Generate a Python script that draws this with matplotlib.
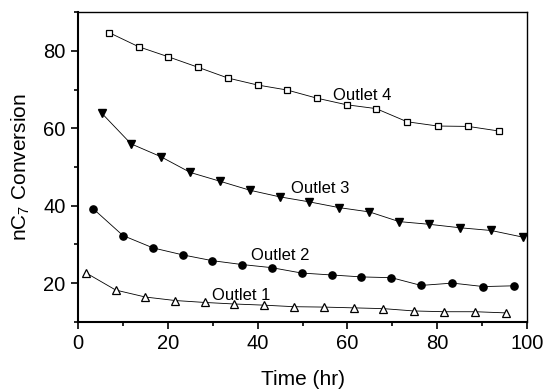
import matplotlib
matplotlib.use("Agg")
import matplotlib.pyplot as plt
from matplotlib.ticker import MultipleLocator

plt.rcParams['font.family'] = ['Liberation Sans', 'DejaVu Sans']
plt.rcParams['mathtext.fontset'] = 'custom'
plt.rcParams['mathtext.rm'] = 'Liberation Sans'
plt.rcParams['mathtext.it'] = 'Liberation Sans'

# conversion vs. time on stream, one series per reactor outlet
time_1 = [1.7, 8.4, 15.0, 21.6, 28.2, 34.8, 41.4, 48.1, 54.8, 61.4, 68.0, 74.8, 81.6, 88.5, 95.3]
conv_1 = [22.7, 18.2, 16.4, 15.5, 15.0, 14.6, 14.3, 13.9, 13.8, 13.6, 13.4, 12.8, 12.6, 12.6, 12.3]

time_2 = [3.4, 10.0, 16.7, 23.3, 29.9, 36.5, 43.1, 49.8, 56.5, 63.1, 69.8, 76.4, 83.4, 90.3, 97.0]
conv_2 = [39.2, 32.3, 29.1, 27.3, 25.8, 24.8, 24.0, 22.6, 22.1, 21.6, 21.4, 19.4, 20.0, 19.1, 19.3]

time_3 = [5.3, 11.8, 18.4, 25.0, 31.7, 38.3, 44.9, 51.5, 58.2, 64.9, 71.5, 78.2, 85.1, 92.0, 99.0]
conv_3 = [63.9, 56.0, 52.7, 48.6, 46.3, 44.0, 42.3, 41.0, 39.5, 38.4, 35.9, 35.2, 34.3, 33.6, 31.9]

time_4 = [7.0, 13.5, 20.1, 26.7, 33.4, 40.0, 46.6, 53.2, 59.8, 66.4, 73.3, 80.1, 86.9, 93.8]
conv_4 = [84.7, 81.1, 78.5, 75.8, 73.0, 71.2, 69.9, 67.8, 66.1, 65.1, 61.7, 60.6, 60.5, 59.3]

outlet_labels = ["Outlet 1", "Outlet 2", "Outlet 3", "Outlet 4"]
label_pos = [(36.3, 16.9), (45.1, 27.2), (54.0, 44.4), (63.3, 68.6)]

fig = plt.figure(figsize=(5.44, 3.90), dpi=100)
ax = fig.add_axes([0.1434, 0.1749, 0.8254, 0.7936])

line_kw = dict(color='black', linewidth=0.6)
ax.plot(time_1, conv_1, marker='^', markersize=5.2, markerfacecolor='white',
        markeredgecolor='black', markeredgewidth=0.9, **line_kw)
ax.plot(time_2, conv_2, marker='o', markersize=5.2, markerfacecolor='black',
        markeredgecolor='black', **line_kw)
ax.plot(time_3, conv_3, marker='v', markersize=5.8, markerfacecolor='black',
        markeredgecolor='black', **line_kw)
ax.plot(time_4, conv_4, marker='s', markersize=4.6, markerfacecolor='white',
        markeredgecolor='black', markeredgewidth=0.9, **line_kw)

for text, (x, y) in zip(outlet_labels, label_pos):
    ax.text(x, y, text, fontsize=12, ha='center', va='center')

ax.set_xlim(0, 100)
ax.set_ylim(10, 90)
ax.xaxis.set_major_locator(MultipleLocator(20))
ax.xaxis.set_minor_locator(MultipleLocator(10))
ax.yaxis.set_major_locator(MultipleLocator(20))
ax.yaxis.set_minor_locator(MultipleLocator(10))
ax.set_yticks([20, 40, 60, 80])

ax.tick_params(which='both', direction='out', top=False, right=False, width=1.2, labelsize=14.5)
ax.tick_params(which='major', length=5, pad=4)
ax.tick_params(which='minor', length=3)
for side in ['left', 'bottom']:
    ax.spines[side].set_linewidth(1.5)
for side in ['top', 'right']:
    ax.spines[side].set_linewidth(1.0)

ax.set_xlabel("Time (hr)", fontsize=15, labelpad=12)
ax.set_ylabel("nC$_7$ Conversion", fontsize=15, labelpad=8)

fig.savefig("out.png", dpi=100)
